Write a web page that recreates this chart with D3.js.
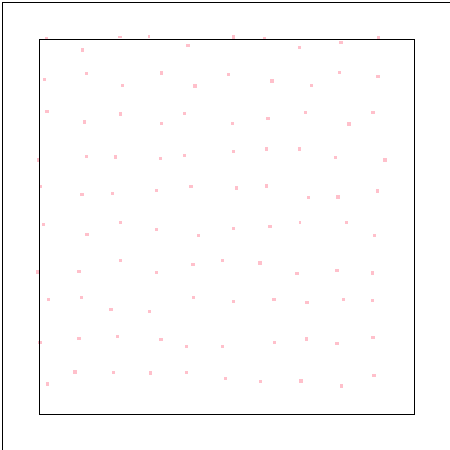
<!DOCTYPE html>
<html><head><meta charset="utf-8">
<script src="https://cdn.jsdelivr.net/npm/d3@7"></script>
<style>html,body{margin:0;padding:0;background:#fff;}svg{display:block;}</style>
</head><body>
<script>
// point positions in data units (0..375), top-left of each mark
const xVals = [
  6,42,79,109,147,193,224,259,300,338,
  4,46,82,121,154,188,231,271,299,337,
  6,44,80,121,144,192,227,265,308,332,
  -2,46,75,120,144,193,226,259,295,344,
  0,41,72,116,150,196,226,268,297,337,
  3,46,80,116,158,193,229,260,306,334,
  -3,38,80,116,152,182,219,256,296,332,
  8,41,70,109,153,193,233,266,303,332,
  -1,38,77,120,146,182,234,266,296,332,
  7,34,73,110,146,185,220,260,301,333
];
const yVals = [
  -2,9,-3,-4,5,-4,-2,7,2,-3,
  39,33,45,32,45,34,40,45,32,36,
  71,81,73,83,73,83,78,72,83,72,
  119,116,116,118,115,111,108,108,117,119,
  146,154,153,150,146,147,145,157,156,150,
  184,194,182,189,195,188,186,182,182,195,
  231,231,220,232,224,220,222,233,230,232,
  259,257,269,271,257,261,259,262,259,260,
  302,298,296,299,306,306,302,298,303,297,
  343,331,332,332,332,338,341,340,345,335
];
const wVals = [
  3,3,4,2,4,3,3,3,4,3,
  3,3,3,3,4,3,4,3,3,4,
  4,3,3,3,3,3,4,3,4,4,
  3,3,3,3,3,3,3,3,3,4,
  3,4,3,3,4,3,3,3,4,3,
  3,4,3,3,3,3,4,2,3,3,
  3,4,3,3,4,3,4,4,4,3,
  3,3,4,3,3,3,4,4,3,3,
  4,4,3,4,3,3,3,3,4,4,
  3,4,3,3,3,3,3,4,3,4
];
const hVals = [
  2,4,2,3,3,4,3,3,3,3,
  3,3,3,4,4,3,4,3,3,3,
  3,4,4,3,3,3,3,3,4,3,
  4,3,4,3,3,3,4,4,3,4,
  3,3,3,3,3,4,4,3,4,4,
  3,3,3,3,3,3,3,3,3,3,
  4,3,3,3,3,3,4,3,3,4,
  3,3,3,3,3,3,3,3,3,3,
  3,3,3,3,3,3,3,4,3,3,
  4,4,3,4,3,3,3,4,4,3
];

const W = 450, H = 450;
const svg = d3.select("body").append("svg").attr("width", W).attr("height", H);

const x = d3.scaleLinear().domain([0, 375]).range([39, 414]);
const y = d3.scaleLinear().domain([0, 375]).range([39, 414]);
const s = d3.scaleLinear().domain([0, 4]).range([0, 4]);

const data = xVals.map((v, i) => ({x: v, y: yVals[i], w: wVals[i], h: hVals[i]}));

// outer frame
svg.append("rect").attr("x", 2.5).attr("y", 2.5).attr("width", 500).attr("height", 500)
  .attr("fill", "none").attr("stroke", "#000").attr("stroke-width", 1);

svg.append("g").selectAll("rect").data(data).join("rect")
  .attr("x", d => Math.round(x(d.x)))
  .attr("y", d => Math.round(y(d.y)))
  .attr("width", d => s(d.w))
  .attr("height", d => s(d.h))
  .attr("fill", "pink")
  .attr("shape-rendering", "crispEdges");

// plot frame
svg.append("rect").attr("x", x(0) + 0.5).attr("y", y(0) + 0.5)
  .attr("width", x(375) - x(0)).attr("height", y(375) - y(0))
  .attr("fill", "none").attr("stroke", "#000").attr("stroke-width", 1);
</script>
</body></html>
